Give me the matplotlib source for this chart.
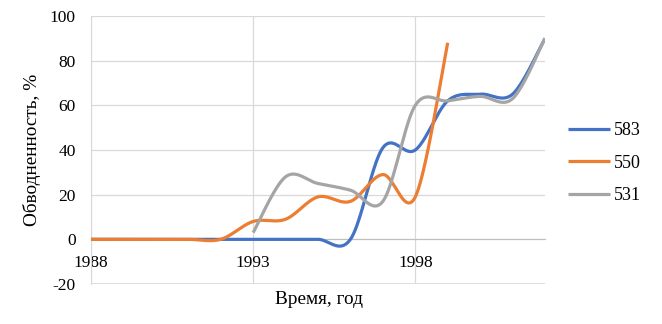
import numpy as np
import matplotlib
matplotlib.use("Agg")
import matplotlib.pyplot as plt

years_583 = [1988, 1989, 1990, 1991, 1992, 1993, 1994, 1995, 1996, 1997, 1998, 1999, 2000, 2001, 2002]
vals_583 = [0, 0, 0, 0, 0, 0, 0, 0, 0, 41, 40, 62, 65, 65, 90]
years_550 = [1988, 1989, 1990, 1991, 1992, 1993, 1994, 1995, 1996, 1997, 1998, 1999]
vals_550 = [0, 0, 0, 0, 0, 8, 9, 19, 17, 29, 19, 88]
years_531 = [1993, 1994, 1995, 1996, 1997, 1998, 1999, 2000, 2001, 2002]
vals_531 = [3, 28, 25, 22, 17, 60, 62, 64, 63, 90]
series_names = ["583", "550", "531"]
colors = ["#4472C4", "#ED7D31", "#A5A5A5"]


def smooth(x, y, n=40):
    x = np.asarray(x, float)
    y = np.asarray(y, float)
    px, py = [], []
    m = len(x)
    for i in range(m - 1):
        x0, y0 = x[max(i - 1, 0)], y[max(i - 1, 0)]
        x1, y1 = x[i], y[i]
        x2, y2 = x[i + 1], y[i + 1]
        x3, y3 = x[min(i + 2, m - 1)], y[min(i + 2, m - 1)]
        c1x, c1y = x1 + (x2 - x0) / 6, y1 + (y2 - y0) / 6
        c2x, c2y = x2 - (x3 - x1) / 6, y2 - (y3 - y1) / 6
        t = np.linspace(0, 1, n)
        bx = (1 - t) ** 3 * x1 + 3 * (1 - t) ** 2 * t * c1x + 3 * (1 - t) * t ** 2 * c2x + t ** 3 * x2
        by = (1 - t) ** 3 * y1 + 3 * (1 - t) ** 2 * t * c1y + 3 * (1 - t) * t ** 2 * c2y + t ** 3 * y2
        px.extend(bx)
        py.extend(by)
    return np.array(px), np.array(py)


plt.rcParams['font.family'] = ['Liberation Serif', 'DejaVu Serif']
plt.rcParams['axes.unicode_minus'] = False
fig = plt.figure(figsize=(6.62, 3.24), dpi=100)
ax = fig.add_axes([91 / 662, 1 - 284 / 324, (545 - 91) / 662, (284 - 16) / 324])

lines = []
for (xs, ys), name, c in zip([(years_583, vals_583), (years_550, vals_550), (years_531, vals_531)],
                             series_names, colors):
    sx, sy = smooth(xs, ys)
    ln, = ax.plot(sx, sy, color=c, lw=2.3, label=name, solid_capstyle='butt', zorder=3)
    lines.append(ln)

ax.set_xlim(1988, 2002)
ax.set_ylim(-20, 100)
ax.set_yticks(np.arange(-20, 101, 20))
ax.set_xticks([1988, 1993, 1998])
ax.grid(True, color="#D9D9D9", lw=0.9, zorder=0)
ax.set_axisbelow(True)
for s in ['top', 'right']:
    ax.spines[s].set_visible(False)
ax.spines['left'].set_color("#D9D9D9")
ax.spines['bottom'].set_position(('data', 0))
ax.spines['bottom'].set_color("#BFBFBF")
ax.tick_params(length=0, labelsize=12.5, colors="black")
ax.tick_params(axis='x', pad=11)
ax.tick_params(axis='y', pad=11)
ax.axhline(-20, color="#D9D9D9", lw=1.2, zorder=0)

fig.text(32 / 662, 1 - 150 / 324, "Обводненность, %", rotation=90, ha='center', va='center', fontsize=13.9)
fig.text(319 / 662, 1 - 300 / 324, "Время, год", ha='center', va='center', fontsize=13.9)

fig.legend(handles=lines, loc='center left', bbox_to_anchor=(552 / 662, 1 - 163 / 324),
           frameon=False, fontsize=13, handlelength=2.3, handletextpad=0.2, labelspacing=0.85)

fig.savefig("out.png", dpi=100)
